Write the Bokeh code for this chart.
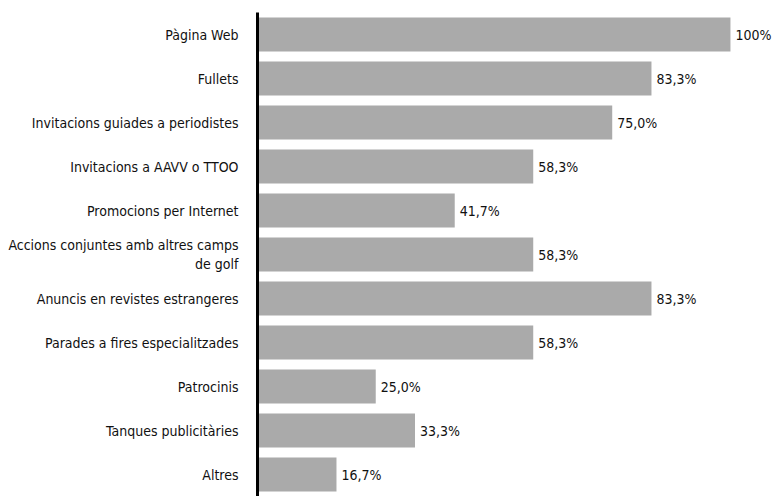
from bokeh.plotting import figure
from bokeh.models import ColumnDataSource, Range1d, FactorRange
from bokeh.core.properties import value
from bokeh.embed import file_html
from bokeh.resources import INLINE

categories = [
    "Pàgina Web",
    "Fullets",
    "Invitacions guiades a periodistes",
    "Invitacions a AAVV o TTOO",
    "Promocions per Internet",
    "Accions conjuntes amb altres camps\nde golf",
    "Anuncis en revistes estrangeres",
    "Parades a fires especialitzades",
    "Patrocinis",
    "Tanques publicitàries",
    "Altres",
]
values = [100.0, 83.3, 75.0, 58.3, 41.7, 58.3, 83.3, 58.3, 25.0, 33.3, 16.7]
labels = ["100%" if v == 100 else ("%.1f%%" % v).replace(".", ",") for v in values]

FONT = "DejaVu Sans Condensed"

src = ColumnDataSource(dict(cat=categories, val=values, lab=labels))

p = figure(
    width=773, height=496,
    y_range=FactorRange(*reversed(categories), range_padding=0),
    x_range=Range1d(0, 109.1),
    output_backend="svg", toolbar_location=None,
    min_border_left=257, min_border_right=0, min_border_top=12, min_border_bottom=0,
)
p.hbar(y="cat", right="val", left=0, height=0.773, source=src,
       fill_color="#aaaaaa", line_color=None)
p.text(x="val", y="cat", text="lab", source=src, x_offset=5,
       text_baseline="middle", text_align="left",
       text_font=value(FONT), text_font_size="14px", text_color="#111111")

p.xaxis.visible = False
p.xgrid.visible = False
p.ygrid.visible = False
p.outline_line_color = None
p.yaxis.axis_line_color = "black"
p.yaxis.axis_line_width = 3
p.yaxis.major_tick_line_color = None
p.yaxis.minor_tick_line_color = None
p.yaxis.major_label_standoff = 13
p.yaxis.major_label_text_font = FONT
p.yaxis.major_label_text_font_size = "14px"
p.yaxis.major_label_text_color = "#111111"

open("out.html", "w").write(file_html(p, INLINE))
